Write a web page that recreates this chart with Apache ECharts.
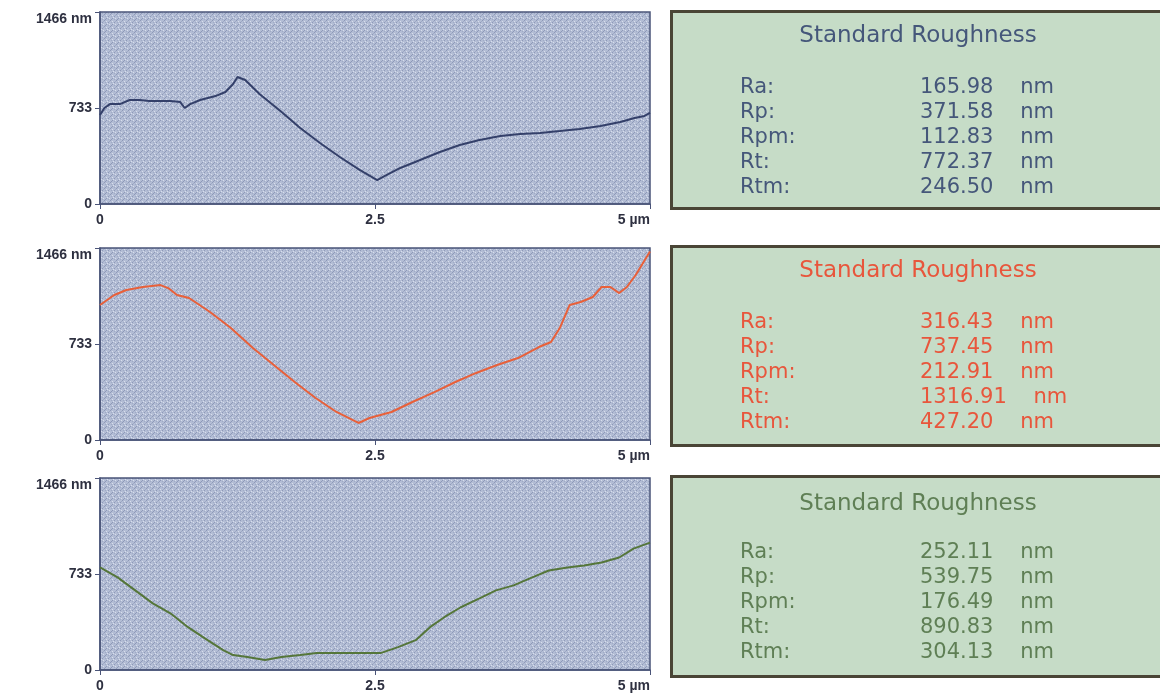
<!DOCTYPE html>
<html>
<head>
<meta charset="utf-8">
<script src="https://cdn.jsdelivr.net/npm/echarts@6/dist/echarts.min.js"></script>
<style>
  html, body { margin: 0; padding: 0; background: #ffffff; }
  #chart { width: 1160px; height: 696px; }
</style>
</head>
<body>
<div id="chart"></div>
<script>
// ---------- data ----------
const xTicks = [0, 2.5, 5];
const yTicks = [0, 733, 1466];

// Profile 1 (dark blue)
const x1 = [0, 0.04, 0.09, 0.18, 0.27, 0.36, 0.45, 0.64, 0.73, 0.77, 0.82, 0.91, 1.05, 1.14, 1.21, 1.25, 1.32, 1.45, 1.64, 1.82, 2.0, 2.18, 2.36, 2.52, 2.59, 2.73, 2.91, 3.09, 3.27, 3.45, 3.64, 3.82, 4.0, 4.18, 4.36, 4.55, 4.73, 4.86, 4.95, 5.0];
const y1 = [680, 733, 763, 763, 794, 794, 786, 786, 778, 733, 763, 794, 824, 855, 916, 970, 947, 840, 710, 580, 466, 359, 260, 183, 214, 275, 336, 397, 450, 489, 519, 534, 542, 557, 573, 596, 626, 657, 672, 695];

// Profile 2 (red)
const x2 = [0, 0.13, 0.24, 0.39, 0.55, 0.62, 0.70, 0.81, 1.0, 1.19, 1.39, 1.58, 1.77, 1.96, 2.15, 2.35, 2.45, 2.65, 2.84, 3.04, 3.23, 3.42, 3.61, 3.8, 3.99, 4.1, 4.18, 4.27, 4.37, 4.48, 4.56, 4.64, 4.72, 4.79, 4.87, 5.0];
const y2 = [1031, 1107, 1145, 1168, 1183, 1160, 1107, 1084, 977, 855, 702, 573, 443, 321, 214, 130, 168, 214, 290, 366, 443, 512, 573, 626, 710, 748, 855, 1031, 1054, 1092, 1168, 1168, 1122, 1168, 1260, 1440];

// Profile 3 (green)
const x3 = [0, 0.16, 0.32, 0.48, 0.64, 0.8, 0.95, 1.12, 1.21, 1.34, 1.5, 1.65, 1.82, 1.97, 2.17, 2.36, 2.55, 2.71, 2.87, 3.0, 3.13, 3.28, 3.45, 3.6, 3.76, 3.93, 4.08, 4.25, 4.4, 4.56, 4.72, 4.85, 5.0];
const y3 = [783, 707, 608, 509, 433, 327, 243, 152, 114, 99, 76, 99, 114, 129, 129, 129, 129, 175, 228, 327, 403, 479, 547, 608, 646, 707, 760, 783, 798, 821, 859, 927, 973];

// Roughness statistics
const statTitle = 'Standard Roughness';
const statNames = ['Ra:', 'Rp:', 'Rpm:', 'Rt:', 'Rtm:'];
const statUnit = 'nm';
const stats1 = ['165.98', '371.58', '112.83', '772.37', '246.50'];
const stats2 = ['316.43', '737.45', '212.91', '1316.91', '427.20'];
const stats3 = ['252.11', '539.75', '176.49', '890.83', '304.13'];

// ---------- styling / layout ----------
const lineColors = ['#34406a', '#e8603a', '#55763a'];
const textColors = ['#45577a', '#e8563c', '#5f7f55'];
const gridTops = [12, 248, 478];
const gridH = 192;
const boxes = [
  { top: 10, h: 197, titleY: 36, rowY: 88 },
  { top: 245, h: 199, titleY: 271, rowY: 323 },
  { top: 475, h: 200, titleY: 504, rowY: 553 }
];
const rowStep = 24.8;

// texture for plot background
function makePattern() {
  const c = document.createElement('canvas');
  c.width = 6; c.height = 6;
  const ctx = c.getContext('2d');
  ctx.fillStyle = '#b3bdd5';
  ctx.fillRect(0, 0, 6, 6);
  ctx.fillStyle = '#8e99b8';
  ctx.fillRect(4, 0, 1, 1); ctx.fillRect(3, 1, 1, 1); ctx.fillRect(2, 2, 1, 1);
  ctx.fillRect(0, 4, 1, 1);
  ctx.fillStyle = '#d8deec';
  ctx.fillRect(1, 0, 1, 1); ctx.fillRect(4, 3, 1, 1); ctx.fillRect(5, 5, 1, 1);
  ctx.fillStyle = '#a0abc6';
  ctx.fillRect(3, 4, 1, 1); ctx.fillRect(0, 1, 1, 1); ctx.fillRect(1, 3, 1, 1);
  return { image: c, repeat: 'repeat' };
}
const bgPattern = makePattern();

const profiles = [[x1, y1], [x2, y2], [x3, y3]];
const allStats = [stats1, stats2, stats3];

const axisColor = '#4a5478';
const labelStyle = { color: '#2e3040', fontSize: 14, fontWeight: 'bold', fontFamily: '"Liberation Sans", Arial, sans-serif' };

const grids = [], xAxes = [], yAxes = [], series = [];
profiles.forEach((p, i) => {
  grids.push({
    left: 100, width: 550, top: gridTops[i], height: gridH,
    show: true, backgroundColor: bgPattern, borderColor: axisColor, borderWidth: 1.5
  });
  xAxes.push({
    type: 'value', gridIndex: i, min: xTicks[0], max: xTicks[2], interval: xTicks[1] - xTicks[0],
    axisLine: { show: true, lineStyle: { color: axisColor, width: 1.5 } },
    axisTick: { show: true, length: 5, lineStyle: { color: axisColor } },
    splitLine: { show: false },
    axisLabel: Object.assign({}, labelStyle, {
      margin: 9,
      alignMaxLabel: 'right',
      formatter: v => v === xTicks[2] ? v + ' µm' : String(v)
    })
  });
  yAxes.push({
    type: 'value', gridIndex: i, min: yTicks[0], max: yTicks[2], interval: yTicks[1] - yTicks[0],
    axisLine: { show: true, lineStyle: { color: axisColor, width: 1.5 } },
    axisTick: { show: true, length: 5, lineStyle: { color: axisColor } },
    splitLine: { show: false },
    axisLabel: Object.assign({}, labelStyle, {
      margin: 8,
      verticalAlignMaxLabel: 'top',
      formatter: v => v === yTicks[2] ? v + ' nm' : String(v)
    })
  });
  series.push({
    type: 'line', xAxisIndex: i, yAxisIndex: i,
    data: p[0].map((x, k) => [x, p[1][k]]),
    showSymbol: false, symbol: 'none', smooth: false,
    lineStyle: { color: lineColors[i], width: 2 },
    silent: true, animation: false
  });
});

// statistics boxes
const graphics = [];
boxes.forEach((b, i) => {
  graphics.push({
    type: 'rect', left: 670, top: b.top, silent: true,
    shape: { x: 0, y: 0, width: 520, height: b.h },
    style: { fill: '#c6dcc7', stroke: '#4a4536', lineWidth: 3 }
  });
  graphics.push({
    type: 'text', x: 918, y: b.titleY, silent: true,
    style: { text: statTitle, fill: textColors[i], font: '23px "DejaVu Sans", Verdana, sans-serif', align: 'center', verticalAlign: 'middle' }
  });
  statNames.forEach((n, k) => {
    const y = b.rowY + k * rowStep;
    graphics.push({
      type: 'text', x: 740, y: y, silent: true,
      style: { text: n, fill: textColors[i], font: '21px "DejaVu Sans", Verdana, sans-serif', align: 'left', verticalAlign: 'middle' }
    });
    graphics.push({
      type: 'text', x: 920, y: y, silent: true,
      style: { text: allStats[i][k] + '    ' + statUnit, fill: textColors[i], font: '21px "DejaVu Sans", Verdana, sans-serif', align: 'left', verticalAlign: 'middle' }
    });
  });
});

const chart = echarts.init(document.getElementById('chart'), null, { renderer: 'canvas' });
chart.setOption({
  animation: false,
  backgroundColor: '#ffffff',
  grid: grids,
  xAxis: xAxes,
  yAxis: yAxes,
  series: series,
  graphic: graphics
});
</script>
</body>
</html>
